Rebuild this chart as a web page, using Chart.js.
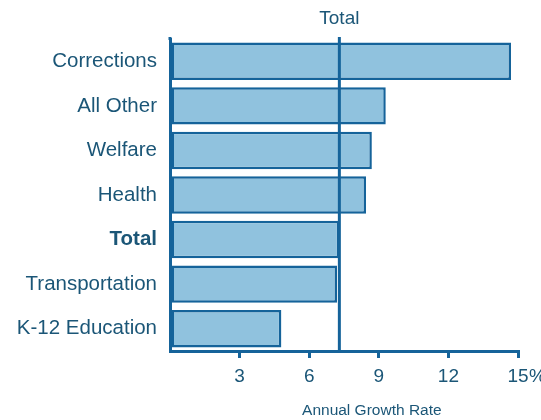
<!DOCTYPE html>
<html>
<head>
<meta charset="utf-8">
<script src="https://cdn.jsdelivr.net/npm/chart.js@4.4.1/dist/chart.umd.min.js"></script>
<style>
  html, body { margin: 0; padding: 0; background: #fff; }
  #wrap { width: 541px; height: 420px; }
</style>
</head>
<body>
<div id="wrap"><canvas id="growthChart" width="541" height="420"></canvas></div>
<script>
const categories = ["Corrections", "All Other", "Welfare", "Health", "Total", "Transportation", "K-12 Education"];
const growthRates = [14.7, 9.3, 8.7, 8.45, 7.3, 7.2, 4.8];
const totalRate = 7.3;
const xTicks = [3, 6, 9, 12, 15];

const ink = "#1b5677";
const edge = "#15639a";
const fill = "#90c2de";
const fontFamily = "'Liberation Sans', Arial, sans-serif";

// vertical reference line for the overall total, with its label on top
const totalLine = {
  id: "totalLine",
  afterDatasetsDraw(chart) {
    const { ctx, chartArea, scales } = chart;
    const x = scales.x.getPixelForValue(totalRate);
    ctx.save();
    ctx.strokeStyle = edge;
    ctx.lineWidth = 3;
    ctx.beginPath();
    ctx.moveTo(x, chartArea.top - 2);
    ctx.lineTo(x, chartArea.bottom);
    ctx.stroke();
    // left axis reaches the same height as the total line
    ctx.beginPath();
    ctx.moveTo(chartArea.left, chartArea.top - 2);
    ctx.lineTo(chartArea.left, chartArea.top + 1);
    ctx.stroke();
    ctx.fillStyle = ink;
    ctx.font = "19px " + fontFamily;
    ctx.textAlign = "center";
    ctx.textBaseline = "middle";
    ctx.fillText("Total", x, 19);
    ctx.restore();
  },
};

// "%" after the last tick and the axis caption
const axisExtras = {
  id: "axisExtras",
  afterDraw(chart) {
    const { ctx, scales } = chart;
    const xs = scales.x;
    ctx.save();
    ctx.fillStyle = ink;
    ctx.font = "19px " + fontFamily;
    ctx.textBaseline = "middle";
    ctx.textAlign = "left";
    const last = xTicks[xTicks.length - 1];
    const w = ctx.measureText(String(last)).width;
    ctx.fillText("%", xs.getPixelForValue(last) + w / 2 + 0.5, 377);
    ctx.font = "15.5px " + fontFamily;
    ctx.textAlign = "center";
    ctx.fillText("Annual Growth Rate", xs.getPixelForValue(8.7), 411);
    ctx.restore();
  },
};

new Chart(document.getElementById("growthChart").getContext("2d"), {
  type: "bar",
  data: {
    labels: categories,
    datasets: [
      {
        data: growthRates,
        backgroundColor: fill,
        borderColor: edge,
        borderWidth: 2.5,
        borderSkipped: false,
        barPercentage: 0.84,
        categoryPercentage: 1,
      },
    ],
  },
  options: {
    indexAxis: "y",
    responsive: false,
    animation: false,
    layout: { padding: { top: 39, right: 23, left: 0, bottom: 0 } },
    plugins: {
      legend: { display: false },
      tooltip: { enabled: false },
    },
    scales: {
      x: {
        min: 0,
        max: 15,
        afterBuildTicks: (scale) => {
          scale.ticks = [0].concat(xTicks).map((v) => ({ value: v }));
        },
        afterFit: (scale) => {
          scale.height = 69;
        },
        border: { display: true, color: edge, width: 3 },
        grid: {
          drawOnChartArea: false,
          drawTicks: true,
          tickLength: 7,
          lineWidth: 3,
          color: (c) => (c.tick && c.tick.value === 0 ? "rgba(0,0,0,0)" : edge),
        },
        ticks: {
          color: ink,
          font: { size: 19, family: fontFamily },
          padding: 7,
          callback: (v) => (v === 0 ? "" : String(v)),
        },
      },
      y: {
        afterFit: (scale) => {
          scale.width = 170;
        },
        border: { display: true, color: edge, width: 3 },
        grid: { display: false },
        ticks: {
          color: ink,
          padding: 5,
          font: (c) => ({
            size: 20.5,
            family: fontFamily,
            weight: categories[c.index] === "Total" ? "bold" : "normal",
          }),
        },
      },
    },
  },
  plugins: [totalLine, axisExtras],
});
</script>
</body>
</html>
